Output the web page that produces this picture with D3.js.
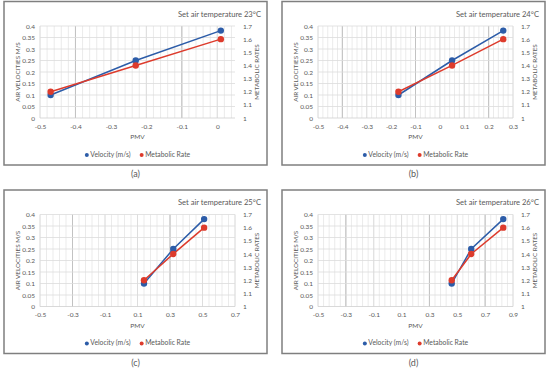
<!DOCTYPE html>
<html>
<head>
<meta charset="utf-8">
<script src="https://d3js.org/d3.v7.min.js"></script>
<style>
  body { margin: 0; background: #fff; }
  text { font-family: Lato, "Open Sans", sans-serif; fill: #595959; }
</style>
</head>
<body>
<div id="chart"></div>
<script>
// values
const panelLabels = ["(a)", "(b)", "(c)", "(d)"];
const titles = ["Set air temperature 23\u00b0C", "Set air temperature 24\u00b0C",
                "Set air temperature 25\u00b0C", "Set air temperature 26\u00b0C"];
const pmv = [
  [-0.47, -0.23, 0.01],
  [-0.17, 0.05, 0.26],
  [0.14, 0.32, 0.51],
  [0.46, 0.60, 0.83]
];
const velocity = [0.10, 0.25, 0.38];
const metabolicRate = [1.20, 1.40, 1.60];
const xDomains = [[-0.5, 0.05], [-0.5, 0.3], [-0.5, 0.7], [-0.5, 0.9]];
const xTicks = [
  [-0.5, -0.4, -0.3, -0.2, -0.1, 0],
  [-0.5, -0.4, -0.3, -0.2, -0.1, 0, 0.1, 0.2, 0.3],
  [-0.5, -0.3, -0.1, 0.1, 0.3, 0.5, 0.7],
  [-0.5, -0.3, -0.1, 0.1, 0.3, 0.5, 0.7, 0.9]
];
const xMinorStep = [0.02, 0.02, 0.04, 0.04];
const darkGrid = [[-0.4, -0.1], [-0.4, -0.1, 0.2], [-0.3, 0.3], [-0.3, 0.3, 0.7]];
const velTicks = [0, 0.05, 0.1, 0.15, 0.2, 0.25, 0.3, 0.35, 0.4];
const rateTicks = [1, 1.1, 1.2, 1.3, 1.4, 1.5, 1.6, 1.7];
const seriesNames = ["Velocity (m/s)", "Metabolic Rate"];

const blue = "#2c5ca8", red = "#dd3b2c";
const fmt = d => String(+d.toFixed(2));

const svg = d3.select("#chart").append("svg")
  .attr("width", 550).attr("height", 373);

const offsets = [[0, 0], [278, 0], [0, 188.5], [278, 188.5]];

pmv.forEach(function (xs, i) {
  var g = svg.append("g").attr("transform", `translate(${offsets[i][0]},${offsets[i][1]})`);

  // panel frame
  g.append("rect").attr("x", 4).attr("y", 1.5).attr("width", 263).attr("height", 163.5)
    .attr("fill", "#fff").attr("stroke", "#7f7f7f").attr("stroke-width", 1.5);

  var left = 40, right = 235, top = 26, bottom = 118;
  var x = d3.scaleLinear().domain(xDomains[i]).range([left, right]);
  var yV = d3.scaleLinear().domain([0, 0.4]).range([bottom, top]);
  var yR = d3.scaleLinear().domain([1, 1.7]).range([bottom, top]);

  // vertical gridlines
  var minor = d3.range(-0.5, xDomains[i][1] + 1e-9, xMinorStep[i]);
  g.append("g").selectAll("line").data(minor).join("line")
    .attr("x1", d => x(d)).attr("x2", d => x(d))
    .attr("y1", top).attr("y2", bottom)
    .attr("stroke", "#e6e6e6").attr("stroke-width", 0.8);
  g.append("g").selectAll("line").data(xTicks[i]).join("line")
    .attr("x1", d => x(d)).attr("x2", d => x(d))
    .attr("y1", top).attr("y2", bottom)
    .attr("stroke", "#dadada").attr("stroke-width", 0.8);
  g.append("g").selectAll("line").data(darkGrid[i]).join("line")
    .attr("x1", d => x(d)).attr("x2", d => x(d))
    .attr("y1", top).attr("y2", bottom)
    .attr("stroke", "#c2c2c2").attr("stroke-width", 1);
  // horizontal gridlines
  g.append("g").selectAll("line").data(velTicks).join("line")
    .attr("x1", left).attr("x2", right)
    .attr("y1", d => yV(d)).attr("y2", d => yV(d))
    .attr("stroke", d => d === 0 ? "#cfcfcf" : "#dcdcdc").attr("stroke-width", 0.8);

  // axes (labels only, Excel style)
  var axL = g.append("g").attr("transform", `translate(${left},0)`)
    .call(d3.axisLeft(yV).tickValues(velTicks).tickFormat(fmt).tickSize(0).tickPadding(5));
  var axR = g.append("g").attr("transform", `translate(${right},0)`)
    .call(d3.axisRight(yR).tickValues(rateTicks).tickFormat(fmt).tickSize(0).tickPadding(8));
  var axB = g.append("g").attr("transform", `translate(0,${bottom})`)
    .call(d3.axisBottom(x).tickValues(xTicks[i]).tickFormat(fmt).tickSize(0).tickPadding(6));
  [axL, axR, axB].forEach(function (a) {
    a.select(".domain").remove();
    a.selectAll("text").style("font-size", "6.5px").attr("fill", "#595959");
  });

  // axis titles
  g.append("text").attr("transform", `translate(18,${(top + bottom) / 2}) rotate(-90)`)
    .attr("text-anchor", "middle").attr("dominant-baseline", "middle")
    .style("font-size", "6.3px").text("AIR VELOCITIES M/S");
  g.append("text").attr("transform", `translate(257,${(top + bottom) / 2}) rotate(-90)`)
    .attr("text-anchor", "middle").attr("dominant-baseline", "middle")
    .style("font-size", "6.3px").text("METABOLIC RATES");
  g.append("text").attr("x", (left + right) / 2).attr("y", 139)
    .attr("text-anchor", "middle").style("font-size", "6.5px").text("PMV");

  // title
  g.append("text").attr("x", 261).attr("y", 16.5).attr("text-anchor", "end")
    .style("font-size", "7.6px").text(titles[i]);

  // series
  var velPts = xs.map((p, k) => [p, velocity[k]]);
  var ratePts = xs.map((p, k) => [p, metabolicRate[k]]);
  var series = [
    { pts: velPts, y: yV, color: blue },
    { pts: ratePts, y: yR, color: red }
  ];
  series.forEach(function (s) {
    g.append("path").datum(s.pts)
      .attr("fill", "none").attr("stroke", s.color).attr("stroke-width", 1.5)
      .attr("d", d3.line().x(d => x(d[0])).y(d => s.y(d[1])));
  });
  series.forEach(function (s) {
    g.append("g").selectAll("circle").data(s.pts).join("circle")
      .attr("cx", d => x(d[0])).attr("cy", d => s.y(d[1])).attr("r", 3.2)
      .attr("fill", s.color);
  });

  // legend, laid out from measured text widths and centred on the plot
  var lg = g.append("g");
  var cursor = 0;
  [blue, red].forEach(function (c, k) {
    lg.append("circle").attr("cx", cursor + 2).attr("cy", 0).attr("r", 2).attr("fill", c);
    var t = lg.append("text").attr("x", cursor + 5.5).attr("y", 0).attr("dominant-baseline", "middle")
      .style("font-size", "6.8px").text(seriesNames[k]);
    cursor += 5.5 + t.node().getComputedTextLength() + 9;
  });
  var legW = cursor - 9;
  lg.attr("transform", `translate(${(left + right) / 2 - legW / 2},155)`);

  // panel label
  g.append("text").attr("x", 135.5).attr("y", 175).attr("text-anchor", "middle")
    .attr("dominant-baseline", "middle").style("font-size", "9px").text(panelLabels[i]);
});
</script>
</body>
</html>
